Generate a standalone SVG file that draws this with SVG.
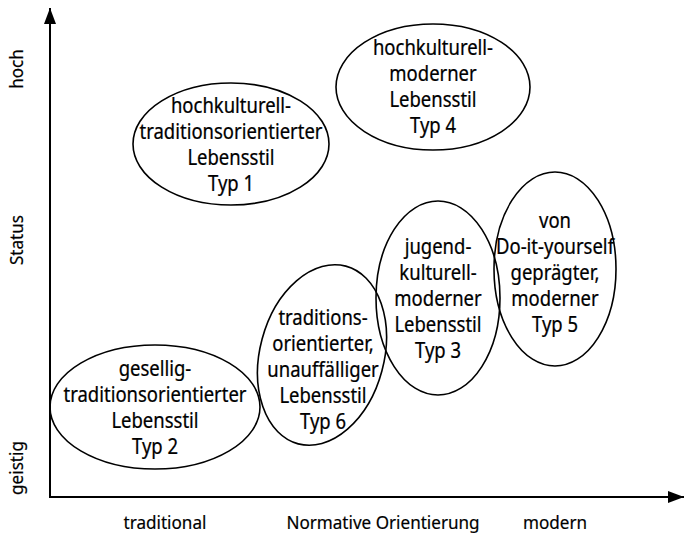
<svg xmlns="http://www.w3.org/2000/svg" width="686" height="534" viewBox="0 0 686 534">
<style>
.bg{fill:#ffffff}
.ax{stroke:#000;stroke-width:2;fill:none}
.el{stroke:#000;stroke-width:1.6;fill:none}
.t{font-family:"Noto Sans","DejaVu Sans",sans-serif;font-size:21px;fill:#000;text-anchor:middle;stroke:#000;stroke-width:0.25}
.a{font-family:"Noto Sans","DejaVu Sans",sans-serif;font-size:19px;fill:#000;text-anchor:middle;stroke:#000;stroke-width:0.2}
</style>
<defs>
<marker id="arr" viewBox="0 0 16 12" refX="16" refY="6" markerWidth="16" markerHeight="12" markerUnits="userSpaceOnUse" orient="auto">
<path d="M0,0 L16,6 L0,12 Z" fill="#000"/>
</marker>
</defs>
<rect class="bg" x="0" y="0" width="686" height="534"/>
<g id="connectors">
<line class="ax" x1="50" y1="497" x2="50" y2="8" marker-end="url(#arr)"/>
<line class="ax" x1="49" y1="497" x2="684" y2="497" marker-end="url(#arr)"/>
</g>
<g id="axis-labels">
<text class="a" transform="translate(23,69) rotate(-90) scale(0.9,1)">hoch</text>
<text class="a" transform="translate(23,240) rotate(-90) scale(0.9,1)">Status</text>
<text class="a" transform="translate(23,468) rotate(-90) scale(0.9,1)">geistig</text>
<text class="a" transform="translate(165,529) scale(0.9,1)">traditional</text>
<text class="a" transform="translate(383,529) scale(0.9,1)">Normative Orientierung</text>
<text class="a" transform="translate(555,529) scale(0.9,1)">modern</text>
</g>
<g id="typ1">
<ellipse class="el" cx="231" cy="144" rx="98" ry="61"/>
<g transform="translate(231,0) scale(0.88,1)">
<text class="t" x="0" y="113">hochkulturell-</text>
<text class="t" x="0" y="139">traditionsorientierter</text>
<text class="t" x="0" y="165">Lebensstil</text>
<text class="t" x="0" y="191">Typ 1</text>
</g>
</g>
<g id="typ4">
<ellipse class="el" cx="433" cy="87" rx="97" ry="63"/>
<g transform="translate(433,0) scale(0.88,1)">
<text class="t" x="0" y="55">hochkulturell-</text>
<text class="t" x="0" y="81">moderner</text>
<text class="t" x="0" y="107">Lebensstil</text>
<text class="t" x="0" y="133">Typ 4</text>
</g>
</g>
<g id="typ5">
<ellipse class="el" cx="555" cy="269" rx="61" ry="97"/>
<g transform="translate(555,0) scale(0.88,1)">
<text class="t" x="0" y="228">von</text>
<text class="t" x="0" y="254">Do-it-yourself</text>
<text class="t" x="0" y="280">geprägter,</text>
<text class="t" x="0" y="306">moderner</text>
<text class="t" x="0" y="332">Typ 5</text>
</g>
</g>
<g id="typ3">
<ellipse class="el" cx="438" cy="298" rx="62" ry="97"/>
<g transform="translate(438,0) scale(0.88,1)">
<text class="t" x="0" y="254">jugend-</text>
<text class="t" x="0" y="280">kulturell-</text>
<text class="t" x="0" y="306">moderner</text>
<text class="t" x="0" y="332">Lebensstil</text>
<text class="t" x="0" y="358">Typ 3</text>
</g>
</g>
<g id="typ6">
<ellipse class="el" cx="322" cy="355" rx="62" ry="92" transform="rotate(15 322 355)"/>
<g transform="translate(323,0) scale(0.88,1)">
<text class="t" x="0" y="325">traditions-</text>
<text class="t" x="0" y="351">orientierter,</text>
<text class="t" x="0" y="377">unauffälliger</text>
<text class="t" x="0" y="403">Lebensstil</text>
<text class="t" x="0" y="429">Typ 6</text>
</g>
</g>
<g id="typ2">
<ellipse class="el" cx="155" cy="407" rx="105" ry="62"/>
<g transform="translate(155,0) scale(0.88,1)">
<text class="t" x="0" y="376">gesellig-</text>
<text class="t" x="0" y="402">traditionsorientierter</text>
<text class="t" x="0" y="428">Lebensstil</text>
<text class="t" x="0" y="454">Typ 2</text>
</g>
</g>
</svg>
